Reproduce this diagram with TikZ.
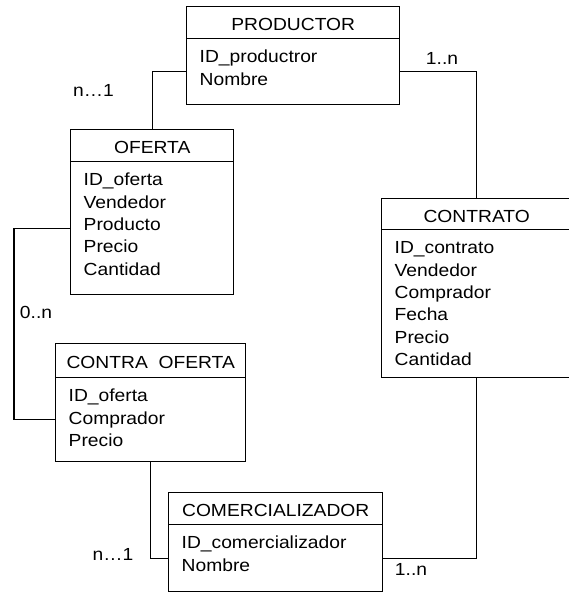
\documentclass[tikz,border=0pt]{standalone}
\usepackage{fontspec}
\setmainfont{Liberation Sans}[FakeStretch=1.1]
\newcommand\entbody[3]{\parbox[b][#2][t]{#1}{\leftskip=13pt\fontsize{17.5}{22.4}\selectfont\rule{0pt}{24pt}#3}}
\tikzset{
  ent/.style={draw, line width=1.4pt, inner sep=0pt, anchor=north west, fill=white},
  ehead/.style 2 args={ent, minimum width=#1, minimum height=#2, text height=16pt, text depth=0pt},
  conn/.style={draw, line width=1.2pt},
  card/.style={anchor=base, inner sep=0pt}
}
\begin{document}
\begin{tikzpicture}[x=1pt, y=-1pt, font=\fontsize{17.5}{22.4}\selectfont]
\useasboundingbox[fill=white] (0,0) rectangle (569,592);
% PRODUCTOR
\node[ehead={213pt}{32pt}] (prodhead) at (186,6) {PRODUCTOR};
\node[ent] (prodbody) at (186,38) {\entbody{213pt}{66pt}{ID\_productror\\Nombre}};
% OFERTA
\node[ehead={163pt}{32pt}] (ofhead) at (70,129) {OFERTA};
\node[ent] (ofbody) at (70,161) {\entbody{163pt}{133pt}{ID\_oferta\\Vendedor\\Producto\\Precio\\Cantidad}};
% CONTRA OFERTA
\node[ehead={190pt}{34pt}] (cohead) at (55,343) {CONTRA\ \ OFERTA};
\node[ent] (cobody) at (55,377) {\entbody{190pt}{84pt}{ID\_oferta\\Comprador\\Precio}};
% CONTRATO
\node[ehead={190pt}{31pt}] (cthead) at (381,198) {CONTRATO};
\node[ent] (ctbody) at (381,229) {\entbody{190pt}{148pt}{ID\_contrato\\Vendedor\\Comprador\\Fecha\\Precio\\Cantidad}};
% COMERCIALIZADOR
\node[ehead={214pt}{32pt}] (comhead) at (168,492) {COMERCIALIZADOR};
\node[ent] (combody) at (168,524) {\entbody{214pt}{67pt}{ID\_comercializador\\Nombre}};
% connectors
\draw[conn] (prodbody.west) -| (ofhead.north);
\draw[conn] (prodbody.east) -| (cthead.north);
\draw[conn] (ofbody.west) -- ++(-56,0) |- (cobody.west);
\draw[conn] (cobody.south) |- (combody.west);
\draw[conn] (combody.east) -| (ctbody.south);
% cardinalities
\node[card] (c1) at (93.5,96) {n…1};
\node[card] (c2) at (442,64) {1..n};
\node[card] (c3) at (36,318) {0..n};
\node[card] (c4) at (113,560) {n…1};
\node[card] (c5) at (411,575) {1..n};
\end{tikzpicture}
\end{document}
